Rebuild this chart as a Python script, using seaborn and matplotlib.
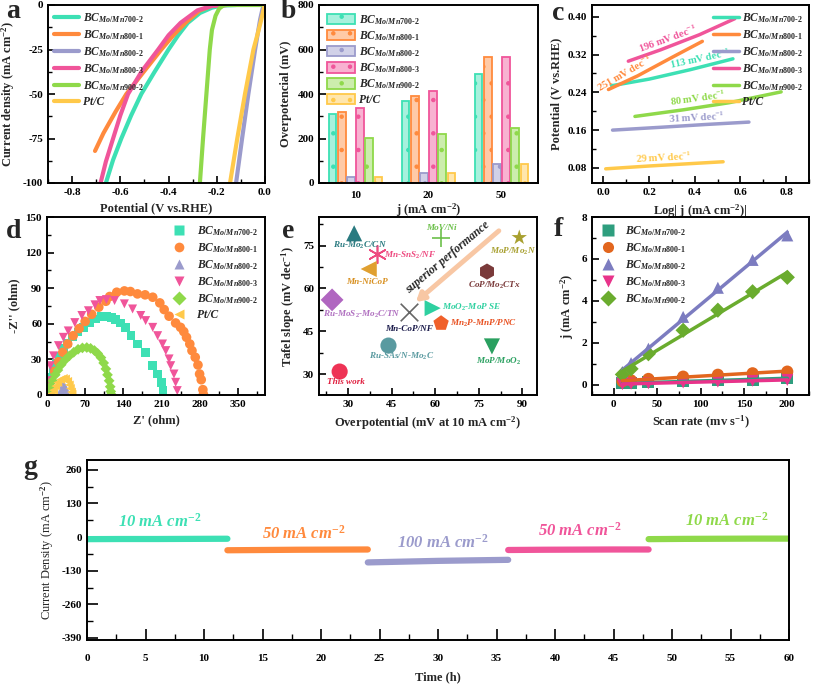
import numpy as np
import pandas as pd
import matplotlib
matplotlib.use('Agg')
import matplotlib.pyplot as plt
import seaborn as sns
from matplotlib.ticker import MultipleLocator, FormatStrFormatter
from matplotlib.patches import Patch
from matplotlib.lines import Line2D
from matplotlib.colors import to_rgba

# ---------------- data ----------------
SAMPLES = ['Mo/Mn700-2', 'Mo/Mn800-1', 'Mo/Mn800-2', 'Mo/Mn800-3', 'Mo/Mn900-2', 'Pt/C']

# (a) LSV curves
a_pot_700 = [-0.12, -0.18, -0.22, -0.27, -0.32, -0.36, -0.40, -0.46, -0.513, -0.555, -0.596, -0.63, -0.66]
a_cur_700 = [0, -0.3, -1.5, -4.5, -10, -17, -25, -38, -50, -62, -75, -87, -100]
a_pot_801 = [-0.16, -0.22, -0.27, -0.33, -0.38, -0.43, -0.50, -0.575, -0.62, -0.67, -0.705]
a_cur_801 = [0, -0.5, -3, -10, -17, -25, -37, -50, -60, -72, -82]
a_pot_802 = [0.0, -0.01, -0.02, -0.03, -0.041, -0.069, -0.095, -0.12]
a_cur_802 = [0, -2, -8, -16, -25, -50, -75, -100]
a_pot_803 = [-0.16, -0.22, -0.28, -0.35, -0.40, -0.443, -0.51, -0.568, -0.60, -0.63, -0.66, -0.682]
a_cur_803 = [0, -0.5, -3, -10, -17, -25, -37, -50, -62, -75, -88, -100]
a_pot_902 = [-0.015, -0.17, -0.19, -0.205, -0.22, -0.229, -0.243, -0.257, -0.27]
a_cur_902 = [0, 0, -2, -6, -14, -25, -50, -75, -100]
a_pot_pt = [0.0, -0.005, -0.015, -0.03, -0.048, -0.083, -0.115, -0.145]
a_cur_pt = [0, -2, -8, -16, -25, -50, -75, -100]

# (b) overpotentials
b_j = ['10', '20', '50']
b_eta_700 = [310, 368, 488]
b_eta_801 = [318, 392, 568]
b_eta_802 = [28, 45, 85]
b_eta_803 = [338, 414, 565]
b_eta_902 = [202, 220, 248]
b_eta_pt = [28, 44, 85]

# (c) Tafel
c_x_700 = [0.036, 0.20, 0.38, 0.567]; c_y_700 = [0.254, 0.268, 0.288, 0.311]
c_x_801 = [0.022, 0.15, 0.30, 0.433]; c_y_801 = [0.246, 0.275, 0.314, 0.348]
c_x_802 = [0.04, 0.25, 0.45, 0.637]; c_y_802 = [0.160, 0.166, 0.172, 0.177]
c_x_803 = [0.109, 0.25, 0.42, 0.575]; c_y_803 = [0.306, 0.330, 0.362, 0.396]
c_x_902 = [0.138, 0.35, 0.55, 0.778]; c_y_902 = [0.189, 0.203, 0.218, 0.241]
c_x_pt = [0.01, 0.20, 0.38, 0.524]; c_y_pt = [0.078, 0.084, 0.089, 0.093]
c_slopes = ['113', '251', '31', '196', '80', '29']

# (d) Nyquist
d_re_700 = [3, 5, 8, 12, 17, 23, 30, 38, 47, 57, 67, 78, 89, 100, 110, 118, 126, 135, 144, 154, 166, 181, 194, 203, 210, 213]
d_im_700 = [3, 9, 15, 21, 27, 33, 39, 44, 49, 53, 57, 61, 64, 66, 66, 65.5, 63.5, 60.5, 57, 50, 43, 36, 24.7, 17.7, 10.7, 3.7]
d_re_801 = [4, 8, 14, 21, 29, 38, 48, 59, 70, 82, 95, 108, 115, 128, 142, 153, 166, 180, 194, 207, 215, 224, 236, 245, 251, 256, 262, 266, 272, 277, 280, 283, 286, 287]
d_im_801 = [5, 12, 20, 28, 36, 43, 50, 56, 62, 68, 74, 79, 83, 86.6, 87.7, 87.2, 85.2, 84.4, 82.4, 77.6, 72, 66.4, 60.7, 57, 53.4, 48.6, 43, 37.4, 31.8, 25.3, 17.7, 12.9, 4.5, 0.5]
d_re_802 = [25, 26, 27.5, 29, 31, 33, 34.5, 35.5]
d_im_802 = [0.5, 3, 5.5, 7.5, 8, 6.5, 3.5, 0.5]
d_re_803 = [3, 6, 12, 21, 30, 39, 51, 64, 76, 88, 97, 109, 124, 142, 157, 172, 181, 194, 203, 212, 218, 224, 227, 233, 236, 239]
d_im_803 = [12, 24.7, 33, 41.6, 48.6, 54, 61, 67, 71, 76, 79.6, 80.4, 79.6, 76.8, 72.5, 67, 62.7, 57, 50, 43, 37.4, 30.4, 24.7, 17.7, 10.7, 3.7]
d_re_902 = [3, 6, 10, 15, 20, 26, 33, 41, 49, 57, 65, 73, 80, 87, 93, 99, 104, 108, 111, 114, 116, 117, 118]
d_im_902 = [3, 7, 12, 17, 21, 25.5, 29.5, 33, 36, 38.5, 39.7, 40, 39.3, 37.5, 35, 31.5, 27, 22, 17, 12, 7, 3, 0.5]
d_re_pt = [8, 12, 16, 20, 25, 30, 34, 38, 41, 43, 45, 46]
d_im_pt = [1, 4, 7.5, 10.5, 13, 14, 13.5, 11.5, 8.5, 5.5, 2.5, 0.5]

# (e) comparison
e_names = ['Ru-Mo$_{\\mathit{2}}$C/CN', 'MoV/Ni', 'MoP/Mo$_{\\mathit{2}}$N', 'Mn-SnS$_{\\mathit{2}}$/NF',
           'Mn-NiCoP', 'CoP/Mo$_{\\mathit{2}}$CTx', 'Ru-MoS$_{\\mathit{2}}$-Mo$_{\\mathit{2}}$C/TN', 'Mn-CoP/NF',
           'MoO$_{\\mathit{2}}$-MoP SE', 'Mn$_{\\mathit{2}}$P-MnP/PNC', 'Ru-SAs/N-Mo$_{\\mathit{2}}$C', 'MoP/MoO$_{\\mathit{2}}$',
           'This work']
e_eta = [32.1, 62.0, 88.9, 39.9, 37.1, 77.8, 24.5, 51.1, 59.1, 62.0, 43.9, 79.5, 27.1]
e_tafel = [79.3, 77.8, 77.8, 72.0, 66.8, 65.9, 56.0, 51.9, 53.1, 47.8, 40.0, 39.7, 30.9]

# (f) double-layer capacitance
f_rate = [10, 20, 40, 80, 120, 160, 200]
f_j_700 = [0.05, 0.07, 0.10, 0.15, 0.20, 0.24, 0.30]
f_j_801 = [0.15, 0.20, 0.27, 0.38, 0.47, 0.54, 0.62]
f_j_802 = [0.60, 1.02, 1.71, 3.23, 4.62, 5.95, 7.12]
f_j_803 = [0.02, 0.04, 0.06, 0.10, 0.14, 0.18, 0.22]
f_j_902 = [0.48, 0.75, 1.47, 2.59, 3.55, 4.43, 5.12]

# (g) stability steps
g_t_1 = [0, 3, 6, 9, 12];      g_j_1 = [-8, -7.5, -7.5, -7, -6.5]
g_t_2 = [12, 15, 18, 21, 24];  g_j_2 = [-51, -50, -49, -48.5, -48]
g_t_3 = [24, 27, 30, 33, 36];  g_j_3 = [-98, -95, -92, -90, -88]
g_t_4 = [36, 39, 42, 45, 48];  g_j_4 = [-50, -49, -48.5, -48, -48]
g_t_5 = [48, 51, 54, 57, 60];  g_j_5 = [-8, -7, -6.5, -6, -6]
g_labels = ['10 mA cm$^{-2}$', '50 mA cm$^{-2}$', '100 mA cm$^{-2}$', '50 mA cm$^{-2}$', '10 mA cm$^{-2}$']

# ---------------- style ----------------
sns.set_style('ticks')
plt.rcParams.update({
    'font.family': ['Liberation Serif', 'DejaVu Serif'],
    'font.weight': 'bold',
    'axes.labelweight': 'bold',
    'font.size': 8,
    'mathtext.fontset': 'custom',
    'mathtext.rm': 'Liberation Serif:bold',
    'mathtext.it': 'Liberation Serif:italic:bold',
    'mathtext.bf': 'Liberation Serif:bold',
    'axes.unicode_minus': False,
    'axes.facecolor': 'none',
    'axes.linewidth': 1.4,
    'axes.edgecolor': 'black',
    'xtick.direction': 'in', 'ytick.direction': 'in',
    'xtick.major.width': 1.2, 'ytick.major.width': 1.2,
    'xtick.minor.width': 1.0, 'ytick.minor.width': 1.0,
    'xtick.major.size': 5, 'ytick.major.size': 5,
    'xtick.minor.size': 3, 'ytick.minor.size': 3,
    'xtick.color': 'black', 'ytick.color': 'black',
    'hatch.linewidth': 0.8,
})

COL = ['#3de0b4', '#ff8a3d', '#9b9bcc', '#f0559a', '#8fd94a', '#ffc94a']
FCOL = ['#2e9e7e', '#e2661e', '#7c7cc0', '#e8338a', '#6aac2e']


def lab(s):
    if s == 'Pt/C':
        return 'Pt/C'
    return 'BC$_{\\mathit{' + s.replace('-', '}\\text{-}\\mathit{') + '}}$'


LEGFONT = dict(family='Liberation Serif', style='italic', weight='bold', size=8.3)

W, H = 813, 689
fig = plt.figure(figsize=(W / 100, H / 100), dpi=100)


def place(l, t, r, b):
    return fig.add_axes([l / W, 1 - b / H, (r - l) / W, (b - t) / H])


def letter(x, y, s):
    fig.text(x / W, 1 - y / H, s, fontsize=20, fontweight='bold', ha='center', va='center')


LAB = 9

# ---------------- (a) ----------------
ax = place(48, 5, 265, 183)
a_pots = [a_pot_700, a_pot_801, a_pot_802, a_pot_803, a_pot_902, a_pot_pt]
a_curs = [a_cur_700, a_cur_801, a_cur_802, a_cur_803, a_cur_902, a_cur_pt]
dfa = pd.concat([pd.DataFrame({'V': p, 'j': c, 's': s}) for p, c, s in zip(a_pots, a_curs, SAMPLES)])
sns.lineplot(data=dfa, x='V', y='j', hue='s', hue_order=SAMPLES, palette=COL, sort=False,
             estimator=None, lw=3, ax=ax, legend=False)
ax.set_xlim(-0.9, 0.0)
ax.set_ylim(-100, 0)
ax.xaxis.set_major_locator(MultipleLocator(0.2)); ax.xaxis.set_minor_locator(MultipleLocator(0.1))
ax.yaxis.set_major_locator(MultipleLocator(25)); ax.yaxis.set_minor_locator(MultipleLocator(12.5))
ax.xaxis.set_major_formatter(FormatStrFormatter('%.1f'))
ax.set_xlabel('Potential (V vs.RHE)', fontsize=LAB)
ax.set_ylabel('Current density (mA cm$^{-2}$)', fontsize=LAB)
h = [Line2D([], [], color=c, lw=3) for c in COL]
ax.legend(h, [lab(s) for s in SAMPLES], loc='upper left', frameon=False, prop=LEGFONT,
          handlelength=2.2, labelspacing=0.28, borderaxespad=0.1, handletextpad=0.3)
letter(13, 11, 'a')

# ---------------- (b) ----------------
ax = place(319, 5, 538, 183)
b_vals = [b_eta_700, b_eta_801, b_eta_802, b_eta_803, b_eta_902, b_eta_pt]
dfb = pd.concat([pd.DataFrame({'j': b_j, 'eta': v, 's': s}) for v, s in zip(b_vals, SAMPLES)])
sns.barplot(data=dfb, x='j', y='eta', hue='s', hue_order=SAMPLES, order=b_j, palette=COL,
            width=0.75, gap=0.18, ax=ax, legend=False)
for cont, c in zip(ax.containers, COL):
    for bar in cont:
        bar.set_facecolor(to_rgba(c, 0.45))
        bar.set_edgecolor(c)
        bar.set_linewidth(1.3)
        bar.set_hatch('.')
ax.set_ylim(0, 800)
ax.set_xlim(-0.5, 2.5)
ax.yaxis.set_major_locator(MultipleLocator(200)); ax.yaxis.set_minor_locator(MultipleLocator(100))
ax.tick_params(axis='x', length=0, pad=6)
ax.set_xlabel('j (mA cm$^{-2}$)', fontsize=LAB, labelpad=1)
ax.set_ylabel('Overpotencial (mV)', fontsize=LAB)
h = [Patch(facecolor=to_rgba(c, 0.45), edgecolor=c, hatch='.', lw=1.3) for c in COL]
ax.legend(h, [lab(s) for s in SAMPLES], loc='upper left', frameon=False, prop=LEGFONT,
          handlelength=2.4, handleheight=1.0, labelspacing=0.2, borderaxespad=0.3, handletextpad=0.4)
letter(288, 12, 'b')

# ---------------- (c) ----------------
ax = place(592, 5, 809, 183)
c_xs = [c_x_700, c_x_801, c_x_802, c_x_803, c_x_902, c_x_pt]
c_ys = [c_y_700, c_y_801, c_y_802, c_y_803, c_y_902, c_y_pt]
dfc = pd.concat([pd.DataFrame({'x': x, 'y': y, 's': s}) for x, y, s in zip(c_xs, c_ys, SAMPLES)])
sns.lineplot(data=dfc, x='x', y='y', hue='s', hue_order=SAMPLES, palette=COL, sort=False,
             estimator=None, lw=2.5, ax=ax, legend=False)
ax.set_xlim(-0.05, 0.9)
ax.set_ylim(0.048, 0.425)
ax.xaxis.set_major_locator(MultipleLocator(0.2)); ax.xaxis.set_minor_locator(MultipleLocator(0.1))
ax.yaxis.set_major_locator(MultipleLocator(0.08)); ax.yaxis.set_minor_locator(MultipleLocator(0.04))
ax.xaxis.set_major_formatter(FormatStrFormatter('%.1f'))
ax.yaxis.set_major_formatter(FormatStrFormatter('%.2f'))
ax.set_xlabel('Log| j (mA cm$^{-2}$)|', fontsize=LAB)
ax.set_ylabel('Potential (V vs.RHE)', fontsize=LAB)
c_tpos = [(0.42, 0.311, 12), (0.09, 0.281, 30), (0.407, 0.188, 3), (0.28, 0.354, 20), (0.415, 0.229, 8), (0.262, 0.102, 3)]
for (tx, ty, rot), sl, col in zip(c_tpos, c_slopes, COL):
    ax.text(tx, ty, sl + ' mV dec$^{-1}$', color=col, fontsize=7.5, rotation=rot, ha='center', va='center',
            rotation_mode='anchor')
h = [Line2D([], [], color=c, lw=2.5) for c in COL]
ax.legend(h, [lab(s) for s in SAMPLES], loc='upper right', frameon=False, prop=LEGFONT,
          handlelength=2.2, labelspacing=0.28, borderaxespad=0.1, handletextpad=0.3)
letter(558, 14, 'c')

# ---------------- (d) ----------------
ax = place(47, 217, 265, 395)
d_res = [d_re_700, d_re_801, d_re_802, d_re_803, d_re_902, d_re_pt]
d_ims = [d_im_700, d_im_801, d_im_802, d_im_803, d_im_902, d_im_pt]
DMK = ['s', 'o', '^', 'v', 'D', '<']
DSZ = [38, 48, 40, 42, 30, 40]
for x, y, s, c, m, sz in zip(d_res, d_ims, SAMPLES, COL, DMK, DSZ):
    sns.scatterplot(x=x, y=y, color=c, marker=m, s=sz, edgecolor='none', ax=ax, legend=False)
ax.set_xlim(0, 400)
ax.set_ylim(0, 150)
ax.xaxis.set_major_locator(MultipleLocator(70)); ax.xaxis.set_minor_locator(MultipleLocator(35))
ax.yaxis.set_major_locator(MultipleLocator(30)); ax.yaxis.set_minor_locator(MultipleLocator(15))
ax.set_xlabel("Z' (ohm)", fontsize=LAB)
ax.set_ylabel("-Z'' (ohm)", fontsize=LAB)
h = [Line2D([], [], color=c, marker=m, ls='none', ms=7, mec='none') for c, m in zip(COL, DMK)]
ax.legend(h, [lab(s) for s in SAMPLES], loc='upper right', frameon=False, prop=LEGFONT,
          handlelength=1.5, labelspacing=0.28, borderaxespad=0.2, handletextpad=0.8)
letter(14, 232, 'd')

# ---------------- (e) ----------------
ax = place(319, 217, 537, 395)
E_MK = ['^', '+', '*', (6, 2, 0), '<', 'h', 'D', 'x', '>', 'p', 'o', 'v', 'o']
E_MC = ['#2a7a80', '#6cc04a', '#a8a030', '#ee4a80', '#e0a030', '#7a3a3a', '#b066c0', '#666666',
        '#2ed0a0', '#f0602a', '#5a9aa0', '#2aa060', '#ee3355']
E_TC = ['#2a7a80', '#6cc04a', '#a8a030', '#ee4a80', '#d89020', '#7a3a3a', '#b070c0', '#1a1a4a',
        '#2ed0a0', '#e85020', '#5a9aa0', '#2aa060', '#e02040']
E_TXT = [(34.0, 75.0, 'center'), (62.0, 81.3, 'center'), (86.6, 73.1, 'center'), (42.3, 71.6, 'left'),
         (36.5, 62.4, 'center'), (80.3, 61.0, 'center'), (34.9, 51.0, 'center'), (50.9, 45.9, 'center'),
         (62.4, 53.3, 'left'), (64.9, 47.6, 'left'), (48.6, 36.2, 'center'), (81.8, 34.4, 'center'),
         (29.4, 27.4, 'center')]
dfe = pd.DataFrame({'eta': e_eta, 'tafel': e_tafel, 'name': e_names})
for i in range(len(dfe)):
    m = E_MK[i]
    line_art = m in ('+', 'x') or isinstance(m, tuple)
    sns.scatterplot(data=dfe.iloc[[i]], x='eta', y='tafel', marker=m, color=E_MC[i],
                    s=160 if line_art else 135, linewidths=1.2 if line_art else 0,
                    edgecolor=None if line_art else 'none', ax=ax, legend=False)
    tx, ty, ha = E_TXT[i]
    ax.text(tx, ty, e_names[i], color=E_TC[i], fontsize=6.6, style='italic', ha=ha, va='center')
ax.annotate('', xy=(52.6, 54.6), xytext=(82.6, 80.8),
            arrowprops=dict(arrowstyle='-|>,head_length=0.6,head_width=0.35', color='#f8c7a4', lw=3.5))
ax.text(64.3, 71.0, 'superior performance', rotation=40, fontsize=8.5, style='italic',
        ha='center', va='center', rotation_mode='anchor')
ax.set_xlim(20, 95)
ax.set_ylim(22.7, 85)
ax.xaxis.set_major_locator(MultipleLocator(15)); ax.xaxis.set_minor_locator(MultipleLocator(7.5))
ax.yaxis.set_major_locator(MultipleLocator(15)); ax.yaxis.set_minor_locator(MultipleLocator(7.5))
ax.set_xlabel('Overpotential (mV at 10 mA cm$^{-2}$)', fontsize=LAB)
ax.set_ylabel('Tafel slope (mV dec$^{-1}$)', fontsize=LAB)
letter(288, 232, 'e')

# ---------------- (f) ----------------
ax = place(592, 217, 809, 395)
f_js = [f_j_700, f_j_801, f_j_802, f_j_803, f_j_902]
FMK = ['s', 'o', '^', 'v', 'D']
for y, c, m in zip(f_js, FCOL, FMK):
    sns.regplot(x=np.array(f_rate, float), y=np.array(y, float), ci=None, scatter=False,
                line_kws=dict(color=c, lw=2.5), ax=ax, truncate=True)
for y, c, m in zip(f_js, FCOL, FMK):
    sns.scatterplot(x=f_rate, y=y, color=c, marker=m, s=75 if m != 'D' else 60, edgecolor='none', ax=ax, legend=False)
ax.set_xlim(-25, 225)
ax.set_ylim(-0.5, 8)
ax.xaxis.set_major_locator(MultipleLocator(50)); ax.xaxis.set_minor_locator(MultipleLocator(25))
ax.yaxis.set_major_locator(MultipleLocator(2)); ax.yaxis.set_minor_locator(MultipleLocator(1))
ax.set_xlabel('Scan rate (mv s$^{-1}$)', fontsize=LAB)
ax.set_ylabel('j (mA cm$^{-2}$)', fontsize=LAB)
h = [Line2D([], [], color=c, marker=m, ls='none', ms=8, mec='none') for c, m in zip(FCOL, FMK)]
ax.legend(h, [lab(s) for s in SAMPLES[:5]], loc='upper left', frameon=False, prop=LEGFONT,
          handlelength=1.5, labelspacing=0.28, borderaxespad=0.2, handletextpad=0.8)
letter(558, 229, 'f')

# ---------------- (g) ----------------
ax = place(87, 460, 789, 640)
g_ts = [g_t_1, g_t_2, g_t_3, g_t_4, g_t_5]
g_js = [g_j_1, g_j_2, g_j_3, g_j_4, g_j_5]
GCOL = [COL[0], COL[1], COL[2], COL[3], COL[4]]
dfg = pd.concat([pd.DataFrame({'t': t, 'j': j, 'seg': k}) for k, (t, j) in enumerate(zip(g_ts, g_js))])
sns.lineplot(data=dfg, x='t', y='j', hue='seg', palette=GCOL, sort=False, estimator=None, lw=4.5,
             ax=ax, legend=False)
g_tpos = [(6.2, 58), (18.5, 12), (30.4, -22), (42.1, 24), (54.7, 62)]
for (tx, ty), s, c in zip(g_tpos, g_labels, GCOL):
    ax.text(tx, ty, s, color=c, fontsize=12, style='italic', ha='center', va='center')
ax.set_xlim(0, 60)
ax.set_ylim(-398, 298)
ax.xaxis.set_major_locator(MultipleLocator(5)); ax.xaxis.set_minor_locator(MultipleLocator(2.5))
ax.yaxis.set_major_locator(MultipleLocator(130)); ax.yaxis.set_minor_locator(MultipleLocator(65))
ax.set_yticks([-390, -260, -130, 0, 130, 260])
ax.tick_params(which='major', length=8)
ax.tick_params(which='minor', length=4)
ax.tick_params(axis='x', pad=10)
ax.set_xlabel('Time (h)', fontsize=LAB, labelpad=6)
ax.set_ylabel('Current Density (mA cm$^{-2}$)', fontsize=LAB, fontweight='normal')
letter(30, 468, 'g')

fig.savefig('out.png', dpi=100)
